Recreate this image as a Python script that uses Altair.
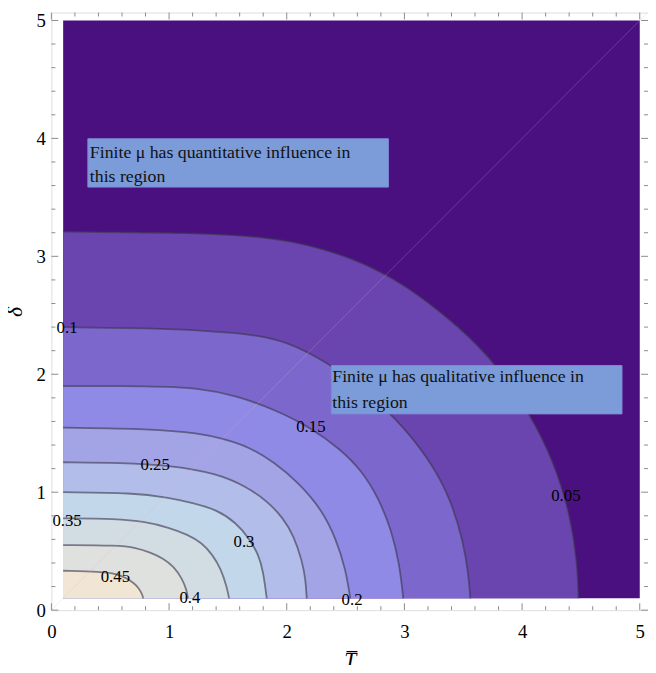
import altair as alt
import pandas as pd

# ---------------- data ----------------
levels = [0.05, 0.10, 0.15, 0.20, 0.25, 0.30, 0.35, 0.40, 0.45]
outer_color = "#4b1080"
band_colors = ["#6a45b0", "#7c68cd", "#8f8ae6", "#a2a4e6", "#b2bde9",
               "#c2d8ea", "#d2dde3", "#dee1dd", "#f1e6d4"]

# contour lines (T-bar, delta-bar)
T_005 = [0.10, 1.20, 1.80, 2.30, 2.90, 3.50, 3.80, 4.07, 4.27, 4.41, 4.47, 4.48]
D_005 = [3.21, 3.20, 3.17, 3.08, 2.85, 2.38, 2.06, 1.66, 1.26, 0.81, 0.40, 0.10]
T_010 = [0.10, 0.85, 1.30, 1.70, 2.00, 2.35, 2.70, 3.00, 3.25, 3.40, 3.50, 3.545, 3.56]
D_010 = [2.40, 2.39, 2.37, 2.34, 2.28, 2.10, 1.84, 1.55, 1.22, 0.92, 0.58, 0.30, 0.10]
T_015 = [0.10, 0.85, 1.25, 1.57, 1.90, 2.20, 2.45, 2.64, 2.78, 2.89, 2.96, 2.99]
D_015 = [1.90, 1.90, 1.885, 1.82, 1.70, 1.55, 1.37, 1.18, 0.95, 0.68, 0.38, 0.10]
T_020 = [0.10, 0.85, 1.26, 1.45, 1.67, 1.90, 2.10, 2.30, 2.42, 2.50, 2.54]
D_020 = [1.547, 1.538, 1.50, 1.455, 1.39, 1.25, 1.08, 0.85, 0.60, 0.35, 0.10]
T_025 = [0.10, 0.60, 0.99, 1.41, 1.65, 1.83, 1.97, 2.06, 2.13, 2.16, 2.17]
D_025 = [1.254, 1.25, 1.23, 1.16, 1.05, 0.93, 0.78, 0.63, 0.42, 0.26, 0.10]
T_030 = [0.10, 0.70, 0.99, 1.20, 1.41, 1.57, 1.68, 1.76, 1.80, 1.83]
D_030 = [1.00, 0.995, 0.955, 0.91, 0.85, 0.74, 0.61, 0.47, 0.33, 0.10]
T_035 = [0.10, 0.55, 0.80, 1.00, 1.16, 1.28, 1.37, 1.44, 1.49, 1.51]
D_035 = [0.778, 0.775, 0.75, 0.70, 0.64, 0.57, 0.47, 0.35, 0.20, 0.10]
T_040 = [0.10, 0.56, 0.72, 0.84, 0.95, 1.04, 1.11, 1.15, 1.16]
D_040 = [0.552, 0.549, 0.53, 0.49, 0.44, 0.37, 0.27, 0.17, 0.10]
T_045 = [0.10, 0.42, 0.55, 0.64, 0.70, 0.74, 0.77, 0.78]
D_045 = [0.334, 0.326, 0.31, 0.27, 0.23, 0.19, 0.14, 0.10]

contour_T = [T_005, T_010, T_015, T_020, T_025, T_030, T_035, T_040, T_045]
contour_D = [D_005, D_010, D_015, D_020, D_025, D_030, D_035, D_040, D_045]

# plotted region of the contour plot
region_T = [0.1, 5.0]
region_D = [0.1, 5.0]

# diagonal guide line
diag_T = [0.0, 5.06]
diag_D = [0.0, 5.06]

# contour labels
label_text = ["0.05", "0.1", "0.15", "0.2", "0.25", "0.3", "0.35", "0.4", "0.45"]
label_T = [4.372, 0.133, 2.205, 2.555, 0.882, 1.637, 0.133, 1.177, 0.544]
label_D = [0.967, 2.39, 1.553, 0.088, 1.233, 0.574, 0.758, 0.105, 0.28]

# annotation boxes
box_T0 = [0.31, 2.379]
box_T1 = [2.864, 4.849]
box_D0 = [3.587, 1.664]
box_D1 = [3.997, 2.074]
box_line1 = ["Finite \u03bc has quantitative influence in",
             "Finite \u03bc has qualitative influence in"]
box_line2 = ["this region", "this region"]
box_text_T = [0.327, 2.387]
box_text_D1 = [3.838, 1.931]
box_text_D2 = [3.629, 1.714]

major_ticks = [0, 1, 2, 3, 4, 5]
minor_ticks = [round(i * 0.2, 1) for i in range(26) if i % 5 != 0]

# ---------------- chart ----------------
W, H = 605, 606
FONT = "Liberation Serif, Times New Roman, serif"
xscale = alt.Scale(domain=[0, 5.07], nice=False, zero=False)
yscale = alt.Scale(domain=[0, 5.067], nice=False, zero=False)

xaxis = alt.Axis(values=major_ticks, format="d", ticks=False, domain=False, grid=False,
                 labelFont=FONT, labelFontSize=19, labelColor="black",
                 labelPadding=13, labelFlush=False,
                 title="T\u0305", titleFont=FONT, titleFontStyle="italic",
                 titleFontWeight="normal", titleFontSize=22, titleColor="black",
                 titlePadding=8)
yaxis = alt.Axis(values=major_ticks, format="d", ticks=False, domain=False, grid=False,
                 labelFont=FONT, labelFontSize=19, labelColor="black",
                 labelPadding=6, labelFlush=False,
                 title="\u03b4\u0305", titleFont=FONT, titleFontStyle="italic",
                 titleFontWeight="normal", titleFontSize=22, titleColor="black",
                 titlePadding=10)

bg_df = pd.DataFrame({"x0": [region_T[0]], "x1": [region_T[1]],
                      "y0": [region_D[0]], "y1": [region_D[1]]})
bg = alt.Chart(bg_df).mark_rect(color=outer_color).encode(
    x=alt.X("x0:Q", scale=xscale, axis=xaxis),
    x2="x1:Q",
    y=alt.Y("y0:Q", scale=yscale, axis=yaxis),
    y2="y1:Q",
)

rows = []
for lev, ts, ds in zip(levels, contour_T, contour_D):
    for t, d in zip(ts, ds):
        rows.append({"level": lev, "T": t, "D": d, "base": region_D[0]})
cdf = pd.DataFrame(rows)

CURVE = "basis"
areas = []
for lev, col in zip(levels, band_colors):
    sub = cdf[cdf["level"] == lev]
    areas.append(
        alt.Chart(sub).mark_area(color=col, interpolate=CURVE).encode(
            x=alt.X("T:Q", scale=xscale),
            y=alt.Y("D:Q", scale=yscale, stack=None),
            y2="base:Q",
        )
    )

lines = alt.Chart(cdf).mark_line(color="#383448", strokeWidth=1.8, opacity=0.6,
                                 interpolate=CURVE).encode(
    x=alt.X("T:Q", scale=xscale),
    y=alt.Y("D:Q", scale=yscale, stack=None),
    detail="level:N",
)

diag = alt.Chart(pd.DataFrame({"T": diag_T, "D": diag_D})).mark_line(
    color="#e8a8d8", strokeWidth=1, opacity=0.25).encode(
    x=alt.X("T:Q", scale=xscale), y=alt.Y("D:Q", scale=yscale))

labels = alt.Chart(pd.DataFrame({"t": label_text, "T": label_T, "D": label_D})).mark_text(
    font=FONT, fontSize=17, color="black", align="center", baseline="middle").encode(
    x=alt.X("T:Q", scale=xscale), y=alt.Y("D:Q", scale=yscale), text="t:N")

bdf = pd.DataFrame({"x0": box_T0, "x1": box_T1, "y0": box_D0, "y1": box_D1,
                    "l1": box_line1, "l2": box_line2, "tx": box_text_T,
                    "ty1": box_text_D1, "ty2": box_text_D2})
boxes = alt.Chart(bdf).mark_rect(fill="#7b9cd9", stroke="#7f88d6", strokeWidth=1).encode(
    x=alt.X("x0:Q", scale=xscale), x2="x1:Q",
    y=alt.Y("y0:Q", scale=yscale), y2="y1:Q")
btext1 = alt.Chart(bdf).mark_text(font=FONT, fontSize=18, color="#111111",
                                  align="left", baseline="alphabetic").encode(
    x=alt.X("tx:Q", scale=xscale), y=alt.Y("ty1:Q", scale=yscale), text="l1:N")
btext2 = alt.Chart(bdf).mark_text(font=FONT, fontSize=18, color="#111111",
                                  align="left", baseline="alphabetic").encode(
    x=alt.X("tx:Q", scale=xscale), y=alt.Y("ty2:Q", scale=yscale), text="l2:N")

tick_color = "#8a8a8a"
maj = pd.DataFrame({"v": major_ticks})
mnr = pd.DataFrame({"v": minor_ticks})
tick_layers = []
for df_, ln in ((maj, 7), (mnr, 4)):
    tick_layers += [
        alt.Chart(df_).mark_rule(color=tick_color, strokeWidth=1).encode(
            x=alt.X("v:Q", scale=xscale), y=alt.value(H), y2=alt.value(H - ln)),
        alt.Chart(df_).mark_rule(color=tick_color, strokeWidth=1).encode(
            x=alt.X("v:Q", scale=xscale), y=alt.value(0), y2=alt.value(ln)),
        alt.Chart(df_).mark_rule(color=tick_color, strokeWidth=1).encode(
            y=alt.Y("v:Q", scale=yscale), x=alt.value(0), x2=alt.value(ln)),
        alt.Chart(df_).mark_rule(color=tick_color, strokeWidth=1).encode(
            y=alt.Y("v:Q", scale=yscale), x=alt.value(W), x2=alt.value(W - ln)),
    ]

chart = alt.layer(bg, *areas, lines, diag, labels, boxes, btext1, btext2,
                  *tick_layers).properties(
    width=W, height=H, autosize="none",
    padding={"left": 44, "top": 0, "right": 0, "bottom": 51},
).configure_view(stroke="#a0a0a0", strokeWidth=1).configure(background="white")

chart.save("out.html", embed_options={"renderer": "svg", "actions": False})
